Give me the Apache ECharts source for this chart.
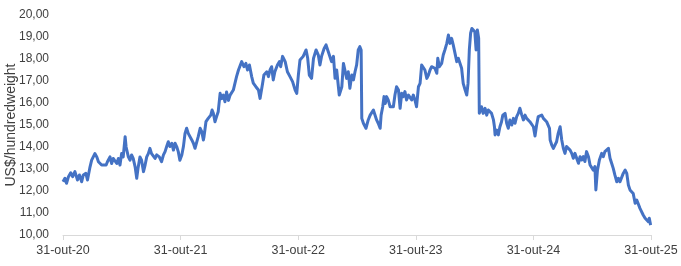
<!DOCTYPE html>
<html>
<head>
<meta charset="utf-8">
<script src="https://cdn.jsdelivr.net/npm/echarts@6/dist/echarts.min.js"></script>
<style>html,body{margin:0;padding:0;background:#fff}#c{width:681px;height:266px}</style>
</head>
<body>
<div id="c"></div>
<script>
const xTickLabels = ['31-out-20','31-out-21','31-out-22','31-out-23','31-out-24','31-out-25'];
const yAxisTitle = 'US$/hundredweight';
const dates = [
'2020-10-31','2020-11-06','2020-11-11','2020-11-17','2020-11-24','2020-11-30','2020-12-07','2020-12-15','2020-12-21','2020-12-28',
'2021-01-02','2021-01-10','2021-01-15','2021-01-23','2021-01-28','2021-02-07','2021-02-13','2021-02-18','2021-02-28','2021-03-05',
'2021-03-14','2021-03-18','2021-03-26','2021-03-31','2021-04-05','2021-04-11','2021-04-16','2021-04-21','2021-04-26','2021-05-01',
'2021-05-06','2021-05-12','2021-05-15','2021-05-22','2021-05-27','2021-06-01','2021-06-06','2021-06-12','2021-06-17','2021-06-21',
'2021-06-27','2021-07-02','2021-07-08','2021-07-13','2021-07-18','2021-07-23','2021-07-28','2021-08-02','2021-08-08','2021-08-13',
'2021-08-18','2021-08-26','2021-09-02','2021-09-08','2021-09-13','2021-09-18','2021-09-23','2021-09-28','2021-10-04','2021-10-09',
'2021-10-14','2021-10-19','2021-10-24','2021-10-29','2021-11-04','2021-11-09','2021-11-14','2021-11-19','2021-11-24','2021-11-29',
'2021-12-05','2021-12-10','2021-12-15','2021-12-20','2021-12-25','2021-12-31','2022-01-05','2022-01-10','2022-01-12','2022-01-18',
'2022-01-25','2022-02-02','2022-02-06','2022-02-10','2022-02-15','2022-02-20','2022-02-25','2022-03-03','2022-03-08','2022-03-13',
'2022-03-18','2022-03-23','2022-03-29','2022-04-03','2022-04-13','2022-04-18','2022-04-23','2022-04-29',
'2022-05-04','2022-05-09','2022-05-16','2022-05-22','2022-05-27','2022-06-02','2022-06-09','2022-06-14','2022-06-22','2022-06-30',
'2022-07-05','2022-07-13','2022-07-17','2022-07-26','2022-07-31','2022-08-05','2022-08-10','2022-08-15','2022-08-20','2022-08-28',
'2022-09-03','2022-09-07','2022-09-13','2022-09-21','2022-09-28','2022-10-06','2022-10-14','2022-10-22','2022-10-27','2022-11-01',
'2022-11-06','2022-11-16','2022-11-25','2022-11-30','2022-12-05','2022-12-12','2022-12-18','2022-12-26','2023-01-02','2023-01-07',
'2023-01-12','2023-01-20','2023-01-26','2023-02-02','2023-02-07','2023-02-12','2023-02-18','2023-02-23','2023-02-28','2023-03-08',
'2023-03-16','2023-03-21','2023-03-26','2023-03-31','2023-04-05','2023-04-10','2023-04-16','2023-04-21','2023-04-26','2023-05-01',
'2023-05-06','2023-05-11',
'2023-05-15','2023-05-17','2023-05-22','2023-05-30','2023-06-06','2023-06-12','2023-06-17','2023-06-22','2023-06-27','2023-07-02',
'2023-07-07','2023-07-13','2023-07-16','2023-07-21','2023-07-25','2023-07-29','2023-08-02','2023-08-07','2023-08-13','2023-08-18',
'2023-08-23','2023-08-28','2023-09-02','2023-09-08','2023-09-13','2023-09-18','2023-09-23','2023-09-28','2023-10-03','2023-10-09',
'2023-10-14','2023-10-19','2023-10-24','2023-10-29','2023-11-03','2023-11-09','2023-11-14','2023-11-19','2023-11-24','2023-11-29',
'2023-12-05','2023-12-10','2023-12-15','2023-12-20','2023-12-25','2023-12-30','2024-01-05','2024-01-08','2024-01-13','2024-01-20',
'2024-01-25','2024-01-30','2024-02-05','2024-02-10','2024-02-15','2024-02-20','2024-02-25','2024-03-01','2024-03-07','2024-03-12',
'2024-03-17','2024-03-22','2024-03-27','2024-04-02','2024-04-07','2024-04-11','2024-04-15','2024-04-19','2024-04-23','2024-04-27',
'2024-05-02','2024-05-06','2024-05-10','2024-05-14','2024-05-16','2024-05-23','2024-05-28','2024-06-03','2024-06-08','2024-06-13',
'2024-06-18','2024-06-23','2024-06-29','2024-07-02','2024-07-04','2024-07-09','2024-07-14','2024-07-19','2024-07-24','2024-07-28',
'2024-08-04','2024-08-09','2024-08-14','2024-08-19','2024-08-25','2024-08-30','2024-09-04','2024-09-09','2024-09-14','2024-09-19',
'2024-09-25','2024-09-30','2024-10-05','2024-10-10','2024-10-15','2024-10-20','2024-10-26','2024-10-31','2024-11-05','2024-11-10',
'2024-11-15','2024-11-21','2024-11-26','2024-12-01','2024-12-06','2024-12-11','2024-12-16','2024-12-20','2024-12-22','2024-12-27',
'2025-01-01','2025-01-06','2025-01-11','2025-01-16','2025-01-22','2025-01-27','2025-02-01','2025-02-06','2025-02-11','2025-02-17',
'2025-02-22','2025-02-27','2025-03-04','2025-03-09','2025-03-14','2025-03-20','2025-03-25','2025-03-30','2025-04-04','2025-04-09',
'2025-04-14','2025-04-20','2025-04-25','2025-04-30','2025-05-05','2025-05-10','2025-05-13','2025-05-18','2025-05-24','2025-05-31',
'2025-06-05','2025-06-10','2025-06-16','2025-06-21','2025-06-26','2025-07-01','2025-07-06','2025-07-11','2025-07-17','2025-07-22',
'2025-07-27','2025-08-01','2025-08-06','2025-08-12','2025-08-17','2025-08-22','2025-08-27','2025-09-01','2025-09-06','2025-09-12',
'2025-09-17','2025-09-22','2025-09-27','2025-10-02','2025-10-07','2025-10-13','2025-10-18','2025-10-23','2025-10-26','2025-10-30'
];
const prices = [
12.42,12.58,12.35,12.65,12.83,12.65,12.88,12.5,12.73,12.42,
12.73,12.8,12.5,13.1,13.4,13.7,13.55,13.33,13.18,13.1,
13.18,13.33,13.55,13.25,13.48,13.55,13.25,13.48,13.18,13.7,
13.55,14.47,14.0,13.55,13.4,13.64,13.48,13.1,12.58,13.03,
13.55,13.4,12.88,13.18,13.55,13.7,13.94,13.7,13.79,13.48,
13.64,13.55,13.33,13.64,13.79,14.02,14.24,14.02,14.17,13.86,
14.17,14.02,13.79,13.4,13.64,14.02,14.62,14.85,14.62,14.55,
14.32,14.17,13.94,14.02,14.47,14.85,14.7,14.32,14.47,15.15,
15.3,15.45,15.68,15.53,15.15,15.38,15.6,16.44,16.2,16.36,
16.06,16.5,16.12,16.36,16.59,16.89,17.2,17.5,
17.42,17.88,17.65,17.8,17.5,17.73,17.2,16.9,16.74,16.59,
16.21,16.9,17.27,17.42,17.2,17.5,17.65,17.05,17.42,17.73,
17.88,17.65,18.12,17.88,17.42,17.2,16.97,16.59,16.44,17.27,
17.95,18.12,18.41,18.03,17.27,17.12,18.03,18.41,18.18,17.73,
18.12,18.48,18.64,18.33,18.41,17.88,18.12,17.12,17.5,16.36,
16.74,17.8,17.73,17.12,17.42,16.67,17.27,17.05,17.42,17.73,
18.41,18.56,
18.41,15.3,15.08,14.85,15.23,15.45,15.38,15.68,15.76,15.23,
15.08,14.85,15.45,15.83,16.29,15.98,16.29,16.14,15.83,15.91,
15.83,16.36,16.74,16.59,15.76,16.44,16.29,16.52,16.14,16.36,
16.29,16.14,16.36,16.14,15.83,16.74,16.89,17.73,17.73,17.5,
17.12,17.27,17.5,17.65,17.73,17.58,17.35,18.03,17.65,17.8,
18.18,18.41,18.71,19.09,18.71,18.94,18.64,18.56,17.88,18.03,
17.95,17.58,16.89,16.59,16.36,16.89,18.41,19.17,19.39,19.47,
19.24,18.41,19.32,18.94,15.53,15.83,15.53,15.76,15.45,15.68,
15.76,15.53,15.23,14.92,14.55,14.77,14.55,14.92,15.15,15.45,
15.53,15.08,14.85,15.23,15.0,15.3,15.08,15.38,15.53,15.76,
15.45,15.23,15.45,15.3,15.23,15.15,15.08,14.92,14.5,15.0,
15.38,15.3,15.45,15.3,15.23,15.15,15.08,14.85,14.32,14.09,
13.94,14.02,14.24,14.62,14.92,14.32,13.94,13.71,14.02,14.09,
13.86,13.71,13.49,13.71,13.79,13.26,13.56,13.41,13.56,13.34,
13.79,13.56,13.18,13.26,12.95,13.11,12.05,12.95,13.41,13.71,
13.56,13.79,13.86,13.94,13.49,13.26,13.03,12.73,12.42,12.58,
12.42,12.5,12.8,12.95,12.8,12.27,12.05,12.12,11.89,11.44,
11.59,11.51,11.21,11.14,10.91,10.76,10.68,10.61,10.76,10.45
];

const START = Date.parse('2020-10-31');
const DAY = 86400000;
const YEAR_DAYS = 365.25;
const seriesData = dates.map((d, i) => [(Date.parse(d) - START) / DAY, prices[i]]);

const chart = echarts.init(document.getElementById('c'), null, {renderer: 'canvas'});
const font = 'Liberation Sans';
chart.setOption({
  animation: false,
  grid: {left: 63, right: 30, top: 15, bottom: 31, containLabel: false, outerBoundsMode: 'none'},
  xAxis: {
    type: 'value',
    min: 0,
    max: YEAR_DAYS * 5,
    interval: YEAR_DAYS,
    axisLine: {show: true, lineStyle: {color: '#D9D9D9', width: 1}},
    axisTick: {show: true, length: 5, lineStyle: {color: '#D9D9D9'}},
    splitLine: {show: false},
    axisLabel: {
      margin: 9, fontSize: 12.5, color: '#404040', fontFamily: font,
      showMinLabel: true, showMaxLabel: true, hideOverlap: false,
      formatter: v => xTickLabels[Math.round(v / YEAR_DAYS)] || ''
    }
  },
  yAxis: {
    type: 'value',
    min: 10, max: 20, interval: 1,
    axisLine: {show: false},
    axisTick: {show: false},
    splitLine: {show: false},
    axisLabel: {
      margin: 14, fontSize: 12, color: '#404040', fontFamily: font,
      formatter: v => v.toFixed(2).replace('.', ',')
    },
    name: yAxisTitle,
    nameLocation: 'middle',
    nameMoveOverlap: false,
    nameGap: 45,
    nameTextStyle: {fontSize: 14, color: '#404040', fontFamily: font}
  },
  series: [{
    type: 'line',
    data: seriesData,
    showSymbol: false,
    symbol: 'none',
    lineStyle: {color: '#4472C4', width: 3, join: 'round'},
    itemStyle: {color: '#4472C4'}
  }]
});
</script>
</body>
</html>
